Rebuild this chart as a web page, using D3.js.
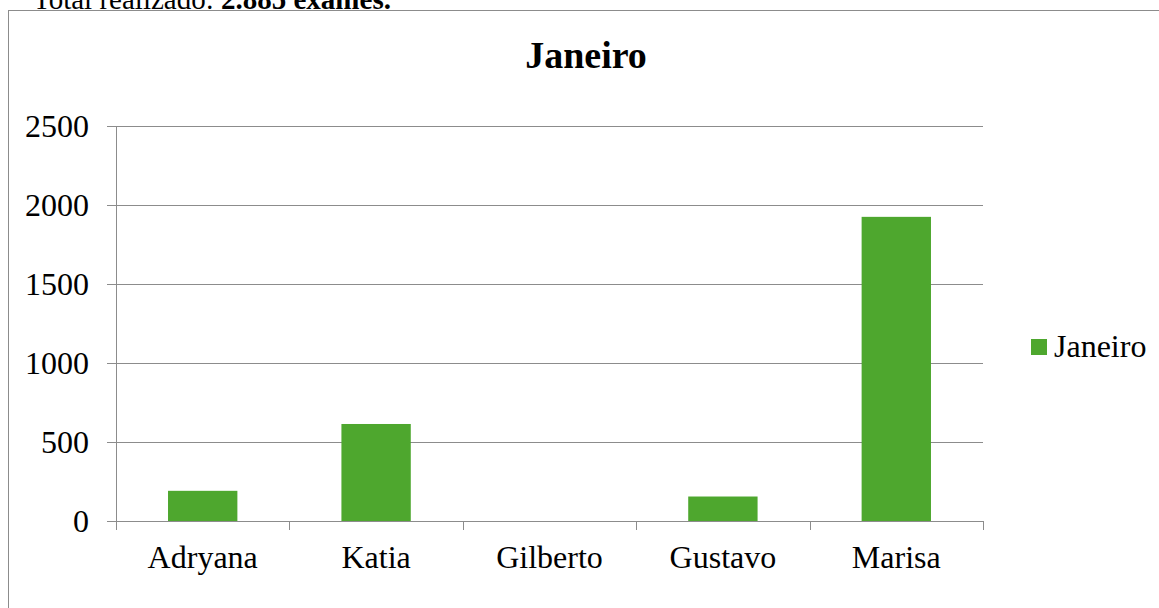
<!DOCTYPE html>
<html><head><meta charset="utf-8">
<script src="https://cdn.jsdelivr.net/npm/d3@7"></script>
<style>body{margin:0;background:#fff}svg{display:block;font-family:"Liberation Serif","Times New Roman",serif}</style>
</head><body>
<svg id="c" width="1159" height="608"></svg>
<script>
const categories = ["Adryana","Katia","Gilberto","Gustavo","Marisa"];
const values = [191, 614, 0, 155, 1925];
const yTicks = [0,500,1000,1500,2000,2500];
const seriesName = "Janeiro";
const titleText = "Janeiro";

const svg = d3.select("#c");
const green = "#4ea72e";
const grid = "#8c8c8c";

// top caption
const cap = svg.append("text").attr("x",33).attr("y",9).attr("font-size",29).attr("fill","#000");
cap.append("tspan").text("Total realizado: ");
cap.append("tspan").attr("font-weight","bold").text("2.885 exames.");

// chart border
svg.append("rect").attr("x",8.5).attr("y",10.5).attr("width",1160).attr("height",610)
  .attr("fill","#fff").attr("stroke","#8c8c8c").attr("stroke-width",1);

const L=116, R=983, T=126, B=521;
const x = d3.scaleBand().domain(categories).range([L,R]).paddingInner(0.6).paddingOuter(0.3);
const xb = d3.scaleBand().domain(categories).range([L,R]);
const y = d3.scaleLinear().domain([0,2500]).range([B,T]);

// gridlines
svg.append("g").selectAll("line").data(yTicks).join("line")
  .attr("x1",L-9).attr("x2",R).attr("y1",d=>Math.round(y(d))+0.5).attr("y2",d=>Math.round(y(d))+0.5)
  .attr("stroke",grid).attr("stroke-width",1);

// y axis line
svg.append("line").attr("x1",L+0.5).attr("x2",L+0.5).attr("y1",T).attr("y2",B+9).attr("stroke",grid);
// x ticks at band boundaries
const bounds = categories.map(c=>xb(c)).concat([R]);
svg.append("g").selectAll("line").data(bounds).join("line")
  .attr("x1",d=>Math.round(d)+0.5).attr("x2",d=>Math.round(d)+0.5).attr("y1",B).attr("y2",B+9).attr("stroke",grid);

// bars
svg.append("g").selectAll("rect").data(values).join("rect")
  .attr("x",(d,i)=>x(categories[i])).attr("width",x.bandwidth())
  .attr("y",d=>y(d)).attr("height",d=>B-y(d)).attr("fill",green);

// y labels
svg.append("g").selectAll("text").data(yTicks).join("text")
  .attr("x",89).attr("y",d=>y(d)).attr("dy","0.35em").attr("text-anchor","end")
  .attr("font-size",32).text(d=>d);

// x labels
svg.append("g").selectAll("text").data(categories).join("text")
  .attr("x",d=>xb(d)+xb.bandwidth()/2).attr("y",568).attr("text-anchor","middle")
  .attr("font-size",32).text(d=>d);

// title
svg.append("text").attr("x",586).attr("y",68).attr("text-anchor","middle")
  .attr("font-size",38).attr("font-weight","bold").text(titleText);

// legend
svg.append("rect").attr("x",1031).attr("y",339).attr("width",16).attr("height",16).attr("fill",green);
svg.append("text").attr("x",1054).attr("y",357).attr("font-size",32).text(seriesName);
</script>
</body></html>
